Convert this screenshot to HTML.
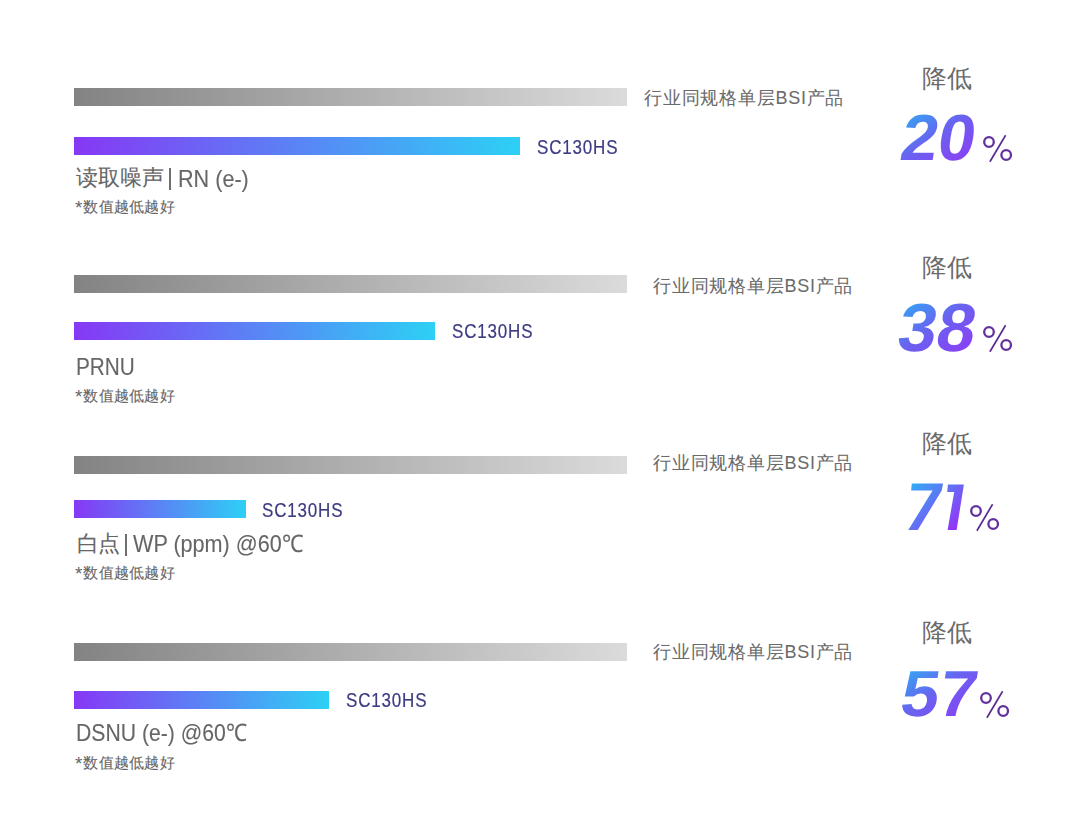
<!DOCTYPE html>
<html><head><meta charset="utf-8">
<style>
html,body{margin:0;padding:0;background:#fff;}
body{width:1080px;height:835px;position:relative;overflow:hidden;font-family:"Liberation Sans",sans-serif;}
.g{position:absolute;left:74px;width:553px;height:18px;background:linear-gradient(90deg,#838383,#dbdbdb);}
.p{position:absolute;left:74px;height:18px;background:linear-gradient(90deg,#8638f5,#2dd0f5);}
.t{position:absolute;white-space:nowrap;line-height:1;transform-origin:0 0;}
.ind{font-size:18px;letter-spacing:0.77px;color:#6a6a6a;-webkit-text-stroke:0.05px #6a6a6a;}
.sc{font-size:19.3px;letter-spacing:0.95px;color:#3d3b82;transform:scaleX(0.88);-webkit-text-stroke:0.2px #3d3b82;}
.cj{font-size:22px;color:#666;-webkit-text-stroke:0.1px #666;}
.la{font-size:24px;color:#666;-webkit-text-stroke:0.1px #666;}
.bar{position:absolute;width:2.2px;height:22px;background:#6e6e6e;}
.ast{font-size:19px;line-height:0;position:relative;top:2px;letter-spacing:1px;-webkit-text-stroke:0;}
.note{font-size:14.5px;letter-spacing:0.25px;color:#666;-webkit-text-stroke:0.1px #666;}
.jd{font-size:24.8px;color:#6a6a6a;}
.num{font-size:65px;font-weight:bold;transform-origin:0 56px;background:linear-gradient(140deg,#36a2f3 10%,#6a62f0 45%,#8f3af6 92%);-webkit-background-clip:text;background-clip:text;color:transparent;padding-right:6px;}
.pc{position:absolute;width:36px;height:36px;}
</style></head><body><div id="wrap" style="position:absolute;left:0;top:0;width:1080px;height:835px">
<svg width="0" height="0" style="position:absolute">
<defs><g id="pct" fill="none" stroke="#63319e">
<circle cx="10" cy="14" r="4.8" stroke-width="2.3"/>
<circle cx="27.2" cy="27" r="4.8" stroke-width="2.3"/>
<line x1="26.6" y1="7.2" x2="10.9" y2="33.8" stroke-width="1.7" stroke="#5a2c92"/>
</g></defs></svg>

<!-- row 1 -->
<div class="g" style="top:88px"></div>
<div class="t ind" style="left:644px;top:89px">行业同规格单层BSI产品</div>
<div class="p" style="top:137px;width:446px"></div>
<div class="t sc" style="left:537px;top:137.7px">SC130HS</div>
<div class="t cj" style="left:76px;top:168px;font-size:21.5px">读取噪声</div>
<div class="bar" style="left:169px;top:168px"></div>
<div class="t la" style="left:177.5px;top:166.5px;transform:scaleX(0.9)">RN (e-)</div>
<div class="t note" style="left:75px;top:200px"><span class="ast">*</span>数值越低越好</div>
<div class="t jd" style="left:922.3px;top:67px">降低</div>
<div class="t num" style="left:898px;top:105px;transform:skewX(-9deg) scaleX(1.026)">20</div>
<svg class="pc" style="left:979.35px;top:127.8px" viewBox="0 0 36 36"><use href="#pct"/></svg>

<!-- row 2 -->
<div class="g" style="top:275px"></div>
<div class="t ind" style="left:653px;top:276.7px">行业同规格单层BSI产品</div>
<div class="p" style="top:322px;width:361px"></div>
<div class="t sc" style="left:452px;top:321.8px">SC130HS</div>
<div class="t la" style="left:76px;top:355px;transform:scaleX(0.865)">PRNU</div>
<div class="t note" style="left:75px;top:389px"><span class="ast">*</span>数值越低越好</div>
<div class="t jd" style="left:922.3px;top:256px">降低</div>
<div class="t num" style="left:895px;top:295.5px;transform:skewX(-9deg) scale(1.07,1.045)">38</div>
<svg class="pc" style="left:978.8px;top:317.65px" viewBox="0 0 36 36"><use href="#pct"/></svg>

<!-- row 3 -->
<div class="g" style="top:456px"></div>
<div class="t ind" style="left:653px;top:453.7px">行业同规格单层BSI产品</div>
<div class="p" style="top:500px;width:172px"></div>
<div class="t sc" style="left:262px;top:501.2px">SC130HS</div>
<div class="t cj" style="left:77px;top:532.5px;letter-spacing:-1.5px">白点</div>
<div class="bar" style="left:125px;top:534px"></div>
<div class="t la" style="left:133px;top:532px;transform:scaleX(0.9)">WP (ppm) @60℃</div>
<div class="t note" style="left:75px;top:566px"><span class="ast">*</span>数值越低越好</div>
<div class="t jd" style="left:922.3px;top:432px">降低</div>
<svg style="position:absolute;left:900px;top:478px" width="70" height="58" viewBox="900 478 70 58"><defs><linearGradient id="g71" gradientUnits="userSpaceOnUse" x1="906" y1="480" x2="962" y2="532"><stop offset="0.1" stop-color="#33aaf4"/><stop offset="0.9" stop-color="#9434f6"/></linearGradient></defs><polygon fill="url(#g71)" points="911.8,483.6 943.1,483.6 941.7,490.5 917.7,530.1 908.3,530.1 932.6,490.5 911.1,490.5"/><polygon fill="url(#g71)" points="947.9,484.6 963.9,484.6 956.6,530.1 947.6,530.1 954.2,491.9 947.2,491.9"/></svg>
<svg class="pc" style="left:966px;top:497.1px" viewBox="0 0 36 36"><use href="#pct"/></svg>

<!-- row 4 -->
<div class="g" style="top:643px"></div>
<div class="t ind" style="left:653px;top:642.7px">行业同规格单层BSI产品</div>
<div class="p" style="top:691px;width:255px"></div>
<div class="t sc" style="left:346px;top:690.6px">SC130HS</div>
<div class="t la" style="left:76px;top:721px;transform:scaleX(0.883)">DSNU (e-) @60℃</div>
<div class="t note" style="left:75px;top:756px"><span class="ast">*</span>数值越低越好</div>
<div class="t jd" style="left:922.3px;top:621.4px">降低</div>
<div class="t num" style="left:897.5px;top:660.5px;transform:skewX(-9deg) scaleX(1.048)">57</div>
<svg class="pc" style="left:975.9px;top:683.75px" viewBox="0 0 36 36"><use href="#pct"/></svg>
</div></body></html>
